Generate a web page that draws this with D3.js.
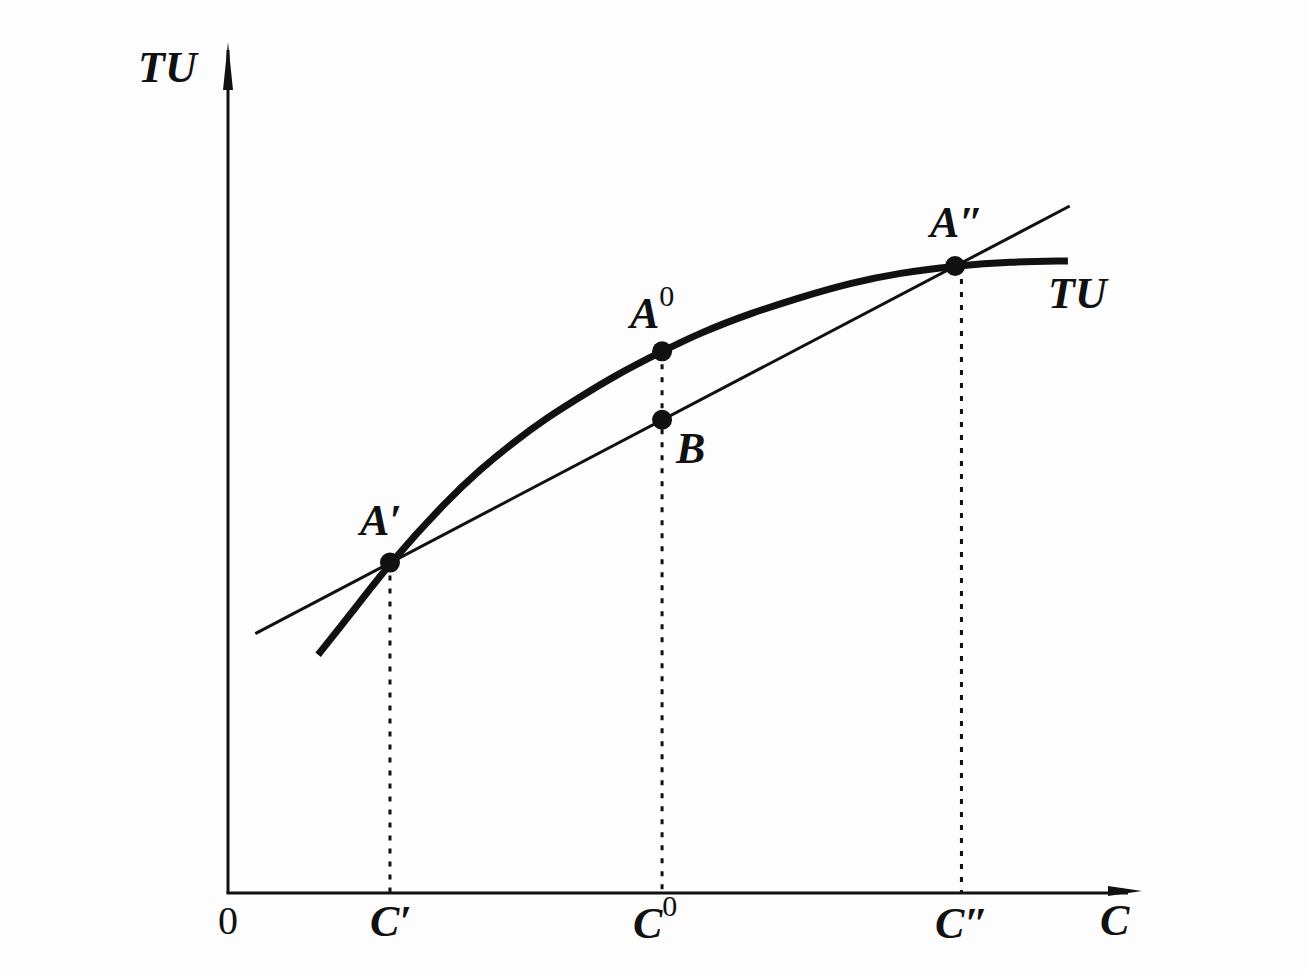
<!DOCTYPE html>
<html lang="en">
<head>
<meta charset="UTF-8">
<title>TU</title>
<script src="https://cdn.jsdelivr.net/npm/d3@7"></script>
<style>
body { margin: 0; background: #fdfdfd; }
svg { display: block; }
.lbl { font-family: "Liberation Serif", "DejaVu Serif", serif; font-style: italic; font-weight: bold; fill: #111; }
.num { font-family: "Liberation Serif", "DejaVu Serif", serif; font-style: normal; font-weight: normal; fill: #111; }
</style>
</head>
<body>
<svg width="1307" height="970"></svg>
<script>
// TU curve (x, y in chart units)
var curveX = [9.9, 13.4, 17.8, 24.1, 27.7, 31.3, 35.1, 38.7, 42.3, 47.7, 51.9, 57.4, 62.9, 68.4, 73.8, 79.9, 85.9, 92.3];
var curveY = [28.2, 32.9, 39.1, 46.5, 50.1, 53.3, 56.3, 58.7, 61.1, 64.1, 66.3, 68.6, 70.5, 72.2, 73.4, 74.2, 74.7, 74.8];
// straight line through A' and A''
var lineX = [3.0, 92.5];
var lineY = [30.7, 81.3];
// marked points
var ptNames = ["A'", "A0", "A''", "B"];
var ptX = [17.8, 47.7, 79.9, 47.7];
var ptY = [39.1, 64.1, 74.2, 56.0];
// ticks on the C axis
var tickX = [17.8, 47.7, 80.6];
var tickNames = ["C'", "C0", "C''"];

var svg = d3.select("svg");
var x = d3.scaleLinear().domain([0, 100]).range([228, 1138]);
var y = d3.scaleLinear().domain([0, 100]).range([893, 48]);

// axes
svg.append("line").attr("x1", x(0)).attr("y1", y(0)).attr("x2", x(0)).attr("y2", 50)
	.attr("stroke", "#111").attr("stroke-width", 3);
svg.append("line").attr("x1", x(0) - 1.5).attr("y1", y(0)).attr("x2", 1128).attr("y2", y(0))
	.attr("stroke", "#111").attr("stroke-width", 3);
svg.append("path").attr("d", "M228,42 L223,90 L233,90 Z").attr("fill", "#111");
svg.append("path").attr("d", "M1142,891 L1108,886 L1108,896 Z").attr("fill", "#111");

// dashed drops
var drops = [[tickX[0], ptY[0]], [tickX[1], ptY[1]], [tickX[2], ptY[2]]];
svg.selectAll(".drop").data(drops).enter().append("line")
	.attr("class", "drop")
	.attr("x1", function(d) { return x(d[0]); })
	.attr("x2", function(d) { return x(d[0]); })
	.attr("y1", function(d) { return y(d[1]); })
	.attr("y2", y(0))
	.attr("stroke", "#111").attr("stroke-width", 3)
	.attr("stroke-dasharray", "5 8");

// straight line
svg.append("line")
	.attr("x1", x(lineX[0])).attr("y1", y(lineY[0]))
	.attr("x2", x(lineX[1])).attr("y2", y(lineY[1]))
	.attr("stroke", "#111").attr("stroke-width", 3);

// TU curve
var curveData = curveX.map(function(v, i) { return [v, curveY[i]]; });
svg.append("path").datum(curveData)
	.attr("fill", "none").attr("stroke", "#111").attr("stroke-width", 7)
	.attr("d", d3.line().x(function(d) { return x(d[0]); }).y(function(d) { return y(d[1]); }).curve(d3.curveBasis));

// dots
svg.selectAll(".dot").data(ptX).enter().append("circle")
	.attr("class", "dot")
	.attr("cx", function(d) { return x(d); })
	.attr("cy", function(d, i) { return y(ptY[i]); })
	.attr("r", 10).attr("fill", "#111");

function label(px, py, main, sup, prime) {
	var t = svg.append("text").attr("class", "lbl").attr("x", px).attr("y", py).style("font-size", "44px");
	t.append("tspan").text(main);
	if (prime) t.append("tspan").text(prime);
	if (sup) t.append("tspan").attr("class", "num").attr("dy", -22).style("font-size", "30px").text(sup);
	return t;
}

// point labels
label(360, 535, "A", null, "\u2032");
label(630, 328, "A", "0");
label(930, 237, "A", null, "\u2033");
label(676, 463, "B");
label(1048, 308, "TU");
label(138, 82, "TU");

// axis labels
svg.append("text").attr("class", "num").attr("x", 228).attr("y", 934)
	.attr("text-anchor", "middle").style("font-size", "40px").text("0");
label(370, 936, "C", null, "\u2032");
label(633, 938, "C", "0");
label(935, 938, "C", null, "\u2033");
label(1100, 935, "C");
</script>
</body>
</html>
